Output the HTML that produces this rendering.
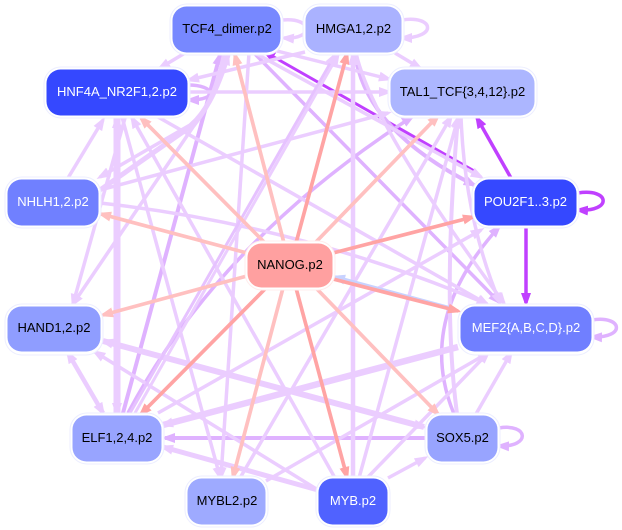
<!DOCTYPE html>
<html><head><meta charset="utf-8"><style>
html,body{margin:0;padding:0;background:#fff}
svg{display:block}
text{font-family:"Liberation Sans",sans-serif;font-size:13px;text-anchor:middle;fill:#000}
text.w{fill:#fff}
.n{stroke:#eceeff;stroke-width:1;fill:#fff}
path{fill:none}
marker path{stroke:none}
.L{stroke:#ebcdff;marker-end:url(#mL)}
.M{stroke:#dfb2ff;marker-end:url(#mM)}
.S{stroke:#c040ff;marker-end:url(#mS)}
.P{stroke:#ffc0c0;marker-end:url(#mP)}
.R{stroke:#ffa4a4;marker-end:url(#mR)}
.B{stroke:#c8d2ff;marker-end:url(#mB)}
.bs{marker-start:url(#mLs)}
</style></head><body>
<svg width="622" height="530" viewBox="0 0 622 530" xmlns="http://www.w3.org/2000/svg">
<defs>
<marker id="mL" markerUnits="userSpaceOnUse" markerWidth="14" markerHeight="12" refX="10" refY="6" orient="auto"><path d="M0,1L14,6L0,11z" style="fill:#ebcdff"/></marker>
<marker id="mLs" markerUnits="userSpaceOnUse" markerWidth="14" markerHeight="12" refX="4" refY="6" orient="auto"><path d="M14,1L0,6L14,11z" style="fill:#ebcdff"/></marker>
<marker id="mM" markerUnits="userSpaceOnUse" markerWidth="14" markerHeight="12" refX="10" refY="6" orient="auto"><path d="M0,1L14,6L0,11z" style="fill:#dfb2ff"/></marker>
<marker id="mS" markerUnits="userSpaceOnUse" markerWidth="14" markerHeight="12" refX="10" refY="6" orient="auto"><path d="M0,1L14,6L0,11z" style="fill:#c040ff"/></marker>
<marker id="mP" markerUnits="userSpaceOnUse" markerWidth="14" markerHeight="12" refX="10" refY="6" orient="auto"><path d="M0,1L14,6L0,11z" style="fill:#ffc0c0"/></marker>
<marker id="mR" markerUnits="userSpaceOnUse" markerWidth="14" markerHeight="12" refX="10" refY="6" orient="auto"><path d="M0,1L14,6L0,11z" style="fill:#ffa4a4"/></marker>
<marker id="mB" markerUnits="userSpaceOnUse" markerWidth="14" markerHeight="12" refX="10" refY="6" orient="auto"><path d="M0,1L14,6L0,11z" style="fill:#c8d2ff"/></marker>
</defs>
<rect width="622" height="530" fill="#fff"/>

<!-- strong edges, underneath -->
<g stroke-width="3">
<path class="S" d="M476,172L265,52"/>
<path class="S" stroke-width="3.500" d="M511,178L477,118"/>
<path class="S" stroke-width="3.500" d="M526,226L526,303"/>
<path class="S" stroke-width="3.500" d="M578,193C610,188 613,212 578,210"/>
</g>

<!-- mid edges -->
<g stroke-width="3.500">
<path class="M" d="M188,85C215,85 220,100 189,100"/>
<path class="M" stroke-width="4" d="M123,413L220,55"/>
<path class="M" d="M128,413Q220,240 412,117"/>
<path class="M" d="M253,52L499,302"/>
<path class="M" stroke-width="4" d="M355,53Q365,130 474,185"/>
<path class="M" stroke-width="3.500" d="M454,414Q415,320 499,227"/>
<path class="M" stroke-width="4" d="M427,438L165,438"/>
<path class="M" d="M499,428C528,423 532,447 499,446"/>
<path class="M" d="M592,320C622,315 627,338 592,337"/>
</g>

<!-- light edges -->
<g stroke-width="3.500">
<path class="L" d="M68,178L103,120"/>
<path class="L bs" stroke-width="7" d="M117,413L117,118"/>
<path class="L" d="M185,53L160,68"/>
<path class="L" d="M122,117L220,477"/>
<path class="L" d="M335,478L132,118"/>
<path class="L" d="M158,117L487,304"/>
<path class="L" d="M188,92L389,92"/>
<path class="L" d="M305,52L189,80"/>
<path class="L" d="M253,45L389,79"/>
<path class="L" d="M224,53C215,95 205,112 190,125L100,177"/>
<path class="L" stroke-width="5" d="M100,190L190,127C203,115 216,95 228,55"/>
<path class="L" d="M228,53C216,95 205,112 193,127L73,304"/>
<path class="L" d="M125,118L73,304"/>
<path class="L" d="M100,190L388,113"/>
<path class="L" d="M100,203Q300,225 487,304"/>
<path class="L" d="M253,52L481,177"/>
<path class="L" d="M356,53Q372,125 504,303"/>
<path class="L" stroke-width="4.500" d="M353,478L353,55"/>
<path class="L" d="M240,478L451,117"/>
<path class="L" d="M359,478L458,118"/>
<path class="L" stroke-width="4" d="M457,414Q442,300 458,118"/>
<path class="L" d="M461,117Q465,220 500,303"/>
<path class="L" d="M368,477L488,353"/>
<path class="L" d="M388,478L425,458"/>
<path class="L" d="M476,414L511,353"/>
<path class="L" stroke-width="6.500" d="M458,347L163,425"/>
<path class="L bs" stroke-width="6" d="M424,427L103,341"/>
<path class="L bs" stroke-width="4.500" d="M68,353L103,413"/>
<path class="L" d="M318,490L95,352"/>
<path class="L" stroke-width="5" d="M318,490L163,447"/>
<path class="L" d="M158,413L481,230"/>
<path class="L" d="M266,481L488,353"/>
<path class="L" d="M249,53L221,477"/>
<path class="L" stroke-width="3" style="stroke:#e6c2ff" d="M130,413L335,55"/>
<path class="L" stroke-width="3" d="M135,413L338,55"/>
<path class="L" d="M282,20C314,17 314,40 284,38"/>
<path class="L" d="M395,53L420,68"/>
<path class="L" d="M402,20C434,15 438,38 402,38"/>
</g>

<!-- blue edge and pink edges -->
<g stroke-width="3.700">
<path class="B" d="M450,308L335,277"/>
<path class="P" d="M265,243L141,118"/>
<path class="P" d="M284,243L235,55"/>
<path class="R" d="M296,243L347,54"/>
<path class="P" d="M315,243L438,116"/>
<path class="R" d="M333,253L473,217"/>
<path class="R" d="M333,279L458,311"/>
<path class="P" d="M316,288L438,414"/>
<path class="R" d="M296,288L347,477"/>
<path class="P" d="M283,288L233,477"/>
<path class="R" d="M266,288L141,414"/>
<path class="P" d="M247,276L103,315"/>
<path class="P" d="M247,253L101,214"/>
</g>

<!-- nodes -->
<g>
<rect class="n" x="170" y="4" width="113" height="51" rx="17"/><rect x="172.500" y="6.500" width="108" height="46" rx="14" fill="#7788ff"/><text x="227" y="33">TCF4_dimer.p2</text>
<rect class="n" x="303" y="4" width="101" height="51" rx="17"/><rect x="305.500" y="6.500" width="96" height="46" rx="14" fill="#aab2ff"/><text x="353.500" y="33">HMGA1,2.p2</text>
<rect class="n" x="44" y="67" width="146" height="51" rx="17"/><rect x="46.500" y="69.500" width="141" height="46" rx="14" fill="#3548ff"/><text class="w" x="117" y="96">HNF4A_NR2F1,2.p2</text>
<rect class="n" x="388" y="67" width="149" height="51" rx="17"/><rect x="390.500" y="69.500" width="144" height="46" rx="14" fill="#acb6ff"/><text x="462.500" y="96">TAL1_TCF{3,4,12}.p2</text>
<rect class="n" x="5" y="177" width="96" height="51" rx="17"/><rect x="7.500" y="179.500" width="91" height="46" rx="14" fill="#7080ff"/><text class="w" x="53" y="206">NHLH1,2.p2</text>
<rect class="n" x="472" y="177" width="107" height="51" rx="17"/><rect x="474.500" y="179.500" width="102" height="46" rx="14" fill="#3548ff"/><text class="w" x="525.500" y="206">POU2F1..3.p2</text>
<rect class="n" x="245" y="241" width="90" height="49" rx="17" style="stroke:#ffecec"/><rect x="247.500" y="243.500" width="85" height="44" rx="14" fill="#ffa0a0"/><text x="290" y="269">NANOG.p2</text>
<rect class="n" x="5" y="304" width="98" height="51" rx="17"/><rect x="7.500" y="306.500" width="93" height="45" rx="14" fill="#8f9dff"/><text x="54" y="332">HAND1,2.p2</text>
<rect class="n" x="458" y="304" width="136" height="51" rx="17"/><rect x="460.500" y="306.500" width="131" height="45" rx="14" fill="#707fff"/><text class="w" x="526" y="332">MEF2{A,B,C,D}.p2</text>
<rect class="n" x="70" y="413" width="94" height="51" rx="17"/><rect x="72.500" y="415.500" width="89" height="46" rx="14" fill="#98a4ff"/><text x="117" y="442">ELF1,2,4.p2</text>
<rect class="n" x="425" y="413" width="75" height="51" rx="17"/><rect x="427.500" y="415.500" width="70" height="46" rx="14" fill="#98a4ff"/><text x="462.500" y="442">SOX5.p2</text>
<rect class="n" x="185" y="476" width="83" height="51" rx="17"/><rect x="187.500" y="478.500" width="78" height="46" rx="14" fill="#9eaaff"/><text x="227" y="505">MYBL2.p2</text>
<rect class="n" x="316" y="476" width="74" height="51" rx="17"/><rect x="318.500" y="478.500" width="69" height="46" rx="14" fill="#5062ff"/><text class="w" x="353" y="505">MYB.p2</text>
</g>
</svg>
</body></html>
